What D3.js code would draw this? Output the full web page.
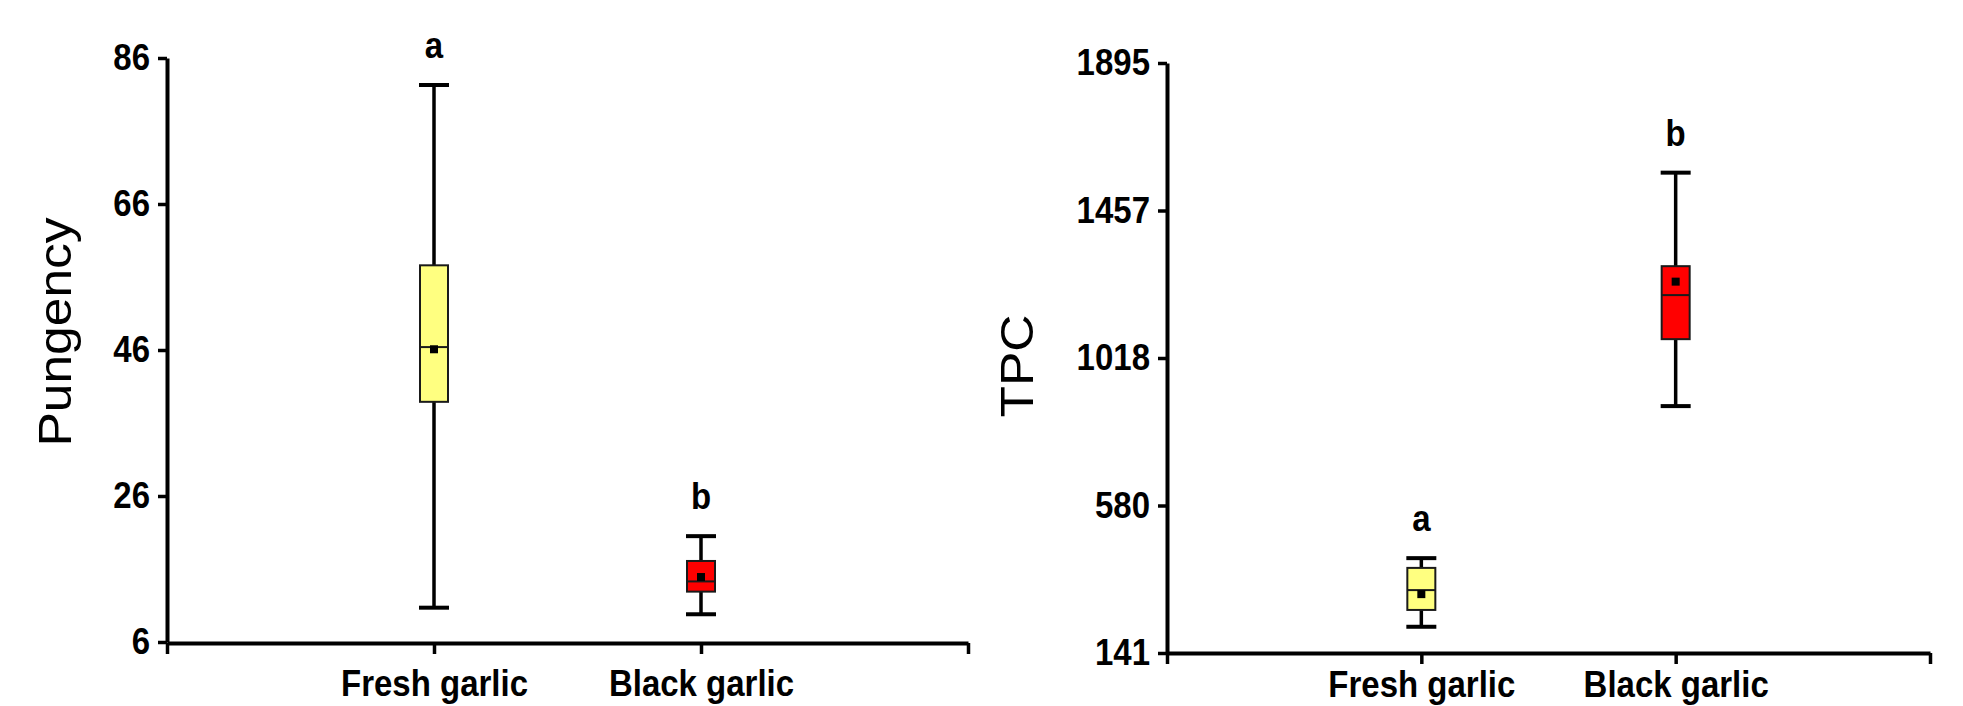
<!DOCTYPE html>
<html>
<head>
<meta charset="utf-8">
<script src="https://cdn.jsdelivr.net/npm/d3@7"></script>
<style>
  body { margin: 0; background: #fff; }
  text { font-family: "Liberation Sans", Arial, sans-serif; }
</style>
</head>
<body>
<div id="chart"></div>
<script>
// categories
const groups = ["Fresh garlic", "Black garlic"];

// Pungency (left panel)
const pungLow = [10.7, 9.8];
const pungQ1 = [38.9, 12.9];
const pungMedian = [46.4, 14.3];
const pungQ3 = [57.6, 17.1];
const pungHigh = [82.3, 20.5];
const pungMean = [46.1, 14.9];
const pungLetters = ["a", "b"];
const pungTicks = [6, 26, 46, 66, 86];
const pungTickLabels = ["6", "26", "46", "66", "86"];

// TPC (right panel)
const tpcLow = [219, 875];
const tpcQ1 = [269, 1074];
const tpcMedian = [328, 1205];
const tpcQ3 = [394, 1291];
const tpcHigh = [423, 1569];
const tpcMean = [316, 1245];
const tpcLetters = ["a", "b"];
const tpcTicks = [141, 579.5, 1018, 1456.5, 1895];
const tpcTickLabels = ["141", "580", "1018", "1457", "1895"];

const fills = ["#ffff80", "#ff0000"];
const S = 1.12; // text looks vertically stretched in the original

const svg = d3
  .select("#chart")
  .append("svg")
  .attr("width", 1963)
  .attr("height", 706)
  .style("background", "#fff");

function drawPanel(p) {
  const x = d3.scaleLinear().domain([0, 3]).range(p.xRange);
  const y = d3.scaleLinear().domain(d3.extent(p.ticks)).range(p.yRange);
  const g = svg.append("g");

  const rows = groups.map((name, i) => ({
    name: name,
    pos: i + 1,
    low: p.low[i],
    q1: p.q1[i],
    med: p.median[i],
    q3: p.q3[i],
    high: p.high[i],
    mean: p.mean[i],
    letter: p.letters[i],
    fill: fills[i],
  }));

  // y axis
  const yAxis = g
    .append("g")
    .attr("transform", `translate(${p.xRange[0]},0)`)
    .call(
      d3
        .axisLeft(y)
        .tickValues(p.ticks)
        .tickFormat((d, i) => p.tickLabels[i])
        .tickSize(9)
        .tickSizeOuter(0)
        .tickPadding(8)
    );

  // x axis
  const xAxis = g
    .append("g")
    .attr("transform", `translate(0,${p.xAxisY})`)
    .call(
      d3
        .axisBottom(x)
        .tickValues([0, 1, 2, 3])
        .tickFormat((d) => groups[d - 1] || "")
        .tickSize(11)
        .tickSizeOuter(0)
        .tickPadding(p.labelPad)
    );

  [yAxis, xAxis].forEach((ax) => {
    ax.select(".domain").attr("stroke", "#000").attr("stroke-width", 4);
    ax.selectAll(".tick line").attr("stroke", "#000").attr("stroke-width", 3.5);
    ax.selectAll(".tick text")
      .attr("fill", "#000")
      .style("font-size", "33px")
      .style("font-weight", "bold");
  });
  yAxis.selectAll(".tick text").attr("transform", `scale(1,${S})`);
  xAxis.selectAll(".tick text").each(function () {
    const t = d3.select(this);
    const yy = +t.attr("y");
    t.attr("y", 0).attr("transform", `translate(0,${yy}) scale(1,${S})`);
  });

  // axis title
  g.append("text")
    .attr("transform", `translate(${p.titleX},${p.titleY}) scale(1,${S}) rotate(-90)`)
    .attr("text-anchor", "middle")
    .style("font-size", "46px")
    .attr("fill", "#000")
    .text(p.title);

  const box = g
    .selectAll(".box")
    .data(rows)
    .enter()
    .append("g")
    .attr("class", "box");

  // whisker
  box
    .append("line")
    .attr("x1", (d) => x(d.pos))
    .attr("x2", (d) => x(d.pos))
    .attr("y1", (d) => y(d.high))
    .attr("y2", (d) => y(d.low))
    .attr("stroke", "#000")
    .attr("stroke-width", 3.5);

  // caps
  ["high", "low"].forEach((k) => {
    box
      .append("line")
      .attr("x1", (d) => x(d.pos) - 15)
      .attr("x2", (d) => x(d.pos) + 15)
      .attr("y1", (d) => y(d[k]))
      .attr("y2", (d) => y(d[k]))
      .attr("stroke", "#000")
      .attr("stroke-width", 4);
  });

  box
    .append("rect")
    .attr("x", (d) => x(d.pos) - 14)
    .attr("width", 28)
    .attr("y", (d) => y(d.q3))
    .attr("height", (d) => y(d.q1) - y(d.q3))
    .attr("fill", (d) => d.fill)
    .attr("stroke", "#1a1a1a")
    .attr("stroke-width", 2);

  box
    .append("line")
    .attr("x1", (d) => x(d.pos) - 14)
    .attr("x2", (d) => x(d.pos) + 14)
    .attr("y1", (d) => y(d.med))
    .attr("y2", (d) => y(d.med))
    .attr("stroke", "#1a1a1a")
    .attr("stroke-width", 2);

  box
    .append("rect")
    .attr("x", (d) => x(d.pos) - 4)
    .attr("y", (d) => y(d.mean) - 4)
    .attr("width", 8)
    .attr("height", 8)
    .attr("fill", "#000");

  box
    .append("text")
    .attr("transform", (d) => `translate(${x(d.pos)},${y(d.high) - 27}) scale(1,${S})`)
    .attr("text-anchor", "middle")
    .style("font-size", "33px")
    .style("font-weight", "bold")
    .attr("fill", "#000")
    .text((d) => d.letter);
}

drawPanel({
  xRange: [167, 968],
  yRange: [642, 58],
  xAxisY: 643,
  labelPad: 16,
  ticks: pungTicks,
  tickLabels: pungTickLabels,
  low: pungLow, q1: pungQ1, median: pungMedian, q3: pungQ3, high: pungHigh, mean: pungMean,
  letters: pungLetters,
  title: "Pungency",
  titleX: 71,
  titleY: 332,
});

drawPanel({
  xRange: [1167, 1930],
  yRange: [653, 63],
  xAxisY: 653,
  labelPad: 7,
  ticks: tpcTicks,
  tickLabels: tpcTickLabels,
  low: tpcLow, q1: tpcQ1, median: tpcMedian, q3: tpcQ3, high: tpcHigh, mean: tpcMean,
  letters: tpcLetters,
  title: "TPC",
  titleX: 1033,
  titleY: 366,
});
</script>
</body>
</html>
